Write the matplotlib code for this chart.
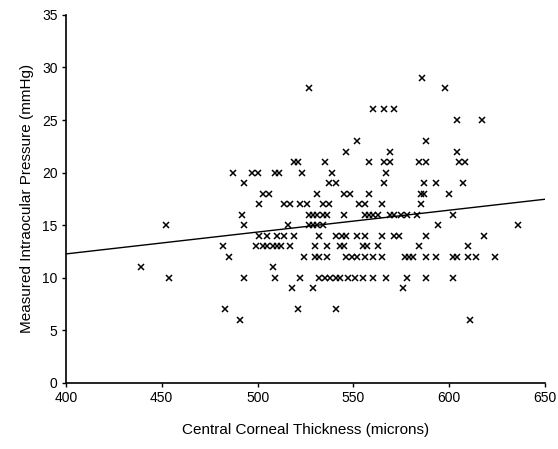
import matplotlib

matplotlib.use("Agg")
import matplotlib.pyplot as plt

# points, grouped by measured pressure (mmHg)
rows = {
    29: [586],
    28: [527, 598],
    26: [560, 566, 571],
    25: [604, 617],
    23: [552, 588],
    22: [546, 569, 604],
    21: [519, 521, 535, 558, 566, 569, 584, 588, 605, 608],
    20: [487, 497, 500, 509, 511, 523, 539, 567],
    19: [493, 537, 541, 566, 587, 593, 607],
    18: [503, 506, 531, 545, 548, 558, 585, 587, 600],
    17: [501, 514, 517, 522, 526, 534, 537, 553, 556, 565, 585],
    16: [492, 527, 529, 531, 534, 536, 545, 556, 558, 560, 563, 569, 571,
         575, 578, 583, 602],
    15: [452, 493, 516, 527, 529, 531, 534, 594, 636],
    14: [501, 505, 510, 514, 519, 532, 541, 544, 546, 552, 556, 565, 571,
         574, 588, 618],
    13: [482, 499, 503, 505, 508, 510, 512, 517, 530, 536, 543, 545, 555,
         557, 563, 584, 610],
    12: [485, 524, 530, 532, 536, 546, 549, 552, 556, 560, 565, 577, 579,
         581, 588, 593, 602, 604, 610, 614, 624],
    11: [439, 508],
    10: [454, 493, 509, 522, 532, 535, 538, 541, 543, 547, 551, 555, 560,
         567, 578, 588, 602],
    9: [518, 529, 576],
    7: [483, 521, 541],
    6: [491, 611],
}
cct = [x for iop, xs in rows.items() for x in xs]
iop = [iop for iop, xs in rows.items() for x in xs]

# regression line end points
fit_x = [400, 650]
fit_y = [12.27, 17.47]

x_ticks = [400, 450, 500, 550, 600, 650]
y_ticks = [0, 5, 10, 15, 20, 25, 30, 35]

plt.rcParams["font.family"] = ["Liberation Sans", "DejaVu Sans"]

fig = plt.figure(figsize=(5.58, 4.49), dpi=100)
ax = fig.add_axes([0.118, 0.147, 0.859, 0.820])

ax.plot(cct, iop, "x", color="black", markersize=4, markeredgewidth=1.1)
ax.plot(fit_x, fit_y, "-", color="black", linewidth=1.0)

ax.set_xlim(400, 650)
ax.set_ylim(0, 35)
ax.set_xticks(x_ticks)
ax.set_yticks(y_ticks)
ax.tick_params(direction="out", length=3, width=1, labelsize=10, pad=3)
for side in ("top", "right"):
    ax.spines[side].set_visible(False)
for side in ("left", "bottom"):
    ax.spines[side].set_linewidth(1.2)

ax.set_xlabel("Central Corneal Thickness (microns)", fontsize=11, labelpad=13)
ax.set_ylabel("Measured Intraocular Pressure (mmHg)", fontsize=11, labelpad=6)

fig.savefig("out.png", dpi=100)
plt.close(fig)
